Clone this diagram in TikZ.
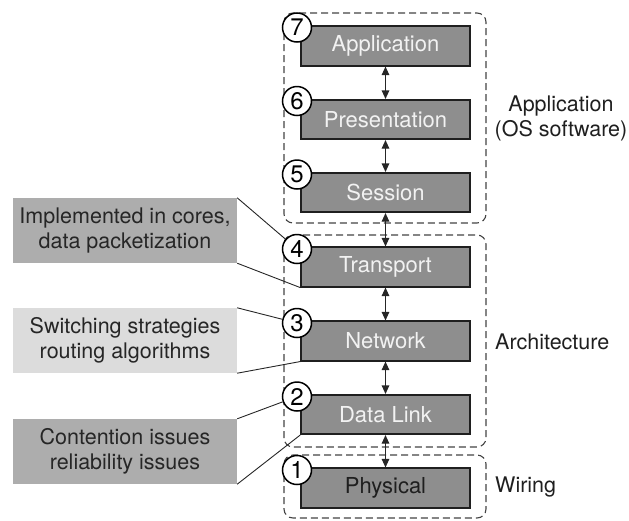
\documentclass[tikz,border=0pt]{standalone}
\usepackage{fontspec}
\setmainfont{TeX Gyre Heros}
\usetikzlibrary{arrows.meta}
\definecolor{layerfill}{HTML}{8E8E8E}
\definecolor{notedark}{HTML}{ADADAD}
\definecolor{notelight}{HTML}{DCDCDC}
\definecolor{groupline}{HTML}{444444}
\begin{document}
\begin{tikzpicture}[x=1pt,y=-1pt,
  layer/.style={draw=black!88,line width=1.6pt,fill=layerfill,minimum width=169pt,minimum height=39.5pt,inner sep=0pt,text=white!95!black,font=\fontsize{22}{25}\selectfont},
  num/.style={circle,draw=black,line width=1.5pt,fill=white,minimum size=29pt,inner sep=0pt,font=\fontsize{24}{26}\selectfont},
  note/.style={minimum width=224pt,minimum height=65pt,inner sep=0pt,align=center,font=\fontsize{21.5}{25.5}\selectfont,text=black!85},
  group/.style={draw=groupline,line width=1.1pt,dash pattern=on 7pt off 4pt,rounded corners=9pt},
  link/.style={{Triangle[length=8.5pt,width=7.5pt]}-{Triangle[length=8.5pt,width=7.5pt]},line width=1.1pt,draw=black!85},
  leader/.style={line width=0.9pt,draw=black!85},
  side/.style={font=\fontsize{21.5}{25}\selectfont,text=black!88,inner sep=0pt}]
\useasboundingbox (0,0) rectangle (629,520);

% groups
\draw[group] (284,13) rectangle (486,223);
\draw[group] (284,235) rectangle (486,447);
\draw[group] (284,455) rectangle (486,518);

% layers
\node[layer] (L7) at (385.5,46) {Application};
\node[layer] (L6) at (385.5,119.5) {Presentation};
\node[layer] (L5) at (385.5,192.5) {Session};
\node[layer] (L4) at (385.5,267) {Transport};
\node[layer] (L3) at (385.5,341) {Network};
\node[layer] (L2) at (385.5,414.5) {Data Link};
\node[layer,text=black!88] (L1) at (385.5,488) {Physical};

% arrows
\draw[link] (L7.south) -- (L6.north);
\draw[link] (L6.south) -- (L5.north);
\draw[link] (L5.south) -- (L4.north);
\draw[link] (L4.south) -- (L3.north);
\draw[link] (L3.south) -- (L2.north);
\draw[link] (L2.south) -- (L1.north);

% number circles
\node[num] (c7) at (297,27.5) {7};
\node[num] (c6) at (297,101) {6};
\node[num] (c5) at (297,174.5) {5};
\node[num] (c4) at (297,249) {4};
\node[num] (c3) at (297,323) {3};
\node[num] (c2) at (297,396.5) {2};
\node[num] (c1) at (297,470) {1};

% notes
\node[note,fill=notedark] (n4) at (125,230.5) {Implemented in cores,\\data packetization};
\node[note,fill=notelight] (n3) at (125,340.5) {Switching strategies\\routing algorithms};
\node[note,fill=notedark] (n2) at (125,451.5) {Contention issues\\reliability issues};

\draw[leader] (n4.north east) -- (c4);
\draw[leader] (n4.south east) -- (L4.south west);
\draw[leader] (n3.north east) -- (c3);
\draw[leader] (n3.south east) -- (L3.south west);
\draw[leader] (n2.north east) -- (c2);
\draw[leader] (n2.south east) -- (L2.south west);

% side labels
\node[side,align=center] (sApp) at (561,118) {Application\\(OS software)};
\node[side,anchor=west] (sArch) at (495,342) {Architecture};
\node[side,anchor=west] (sWir) at (495,487) {Wiring};
\end{tikzpicture}
\end{document}
